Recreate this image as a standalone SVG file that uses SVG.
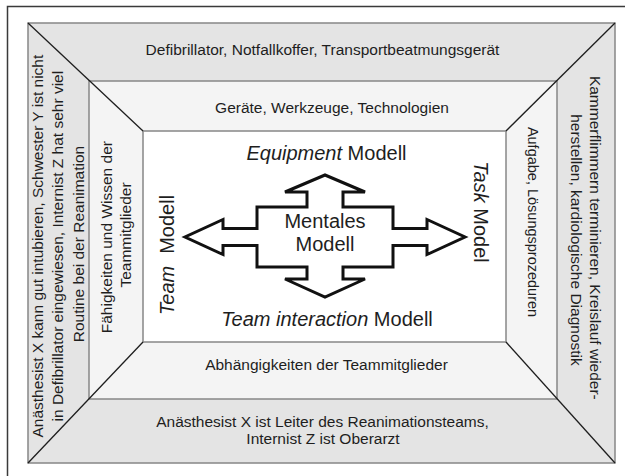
<svg xmlns="http://www.w3.org/2000/svg" width="625" height="476" viewBox="0 0 625 476">
  <style>
    text { font-family: "Liberation Sans", Arial, sans-serif; fill: #1e1e1e; }
    .s { font-size: 15.5px; }
    .xs { font-size: 14.5px; }
    .l { font-size: 20px; }
    .it { font-style: italic; }
    .mid { text-anchor: middle; }
    .band { stroke: #878787; stroke-width: 1.5; }
    .diag { stroke: #1e1e1e; stroke-width: 1.3; fill: none; }
  </style>

  <rect width="625" height="476" fill="#ffffff"/>

  <!-- outer frame (open to the right and bottom) -->
  <path d="M7.5 476 V6.5 H625" fill="none" stroke="#3a3a3a" stroke-width="1.5"/>

  <!-- outer layer: concrete situation -->
  <g id="layer-outer">
    <rect class="band" x="28" y="23" width="587" height="440" fill="#e4e4e4"/>
    <text class="s mid" x="322.5" y="55">Defibrillator, Notfallkoffer, Transportbeatmungsgerät</text>
    <text class="s mid" x="322.5" y="427">Anästhesist X ist Leiter des Reanimationsteams,</text>
    <text class="s mid" x="323" y="444">Internist Z ist Oberarzt</text>
    <text class="s mid" transform="translate(42.5,244) rotate(-90)">
      <tspan x="0" y="0">Anästhesist X kann gut intubieren, Schwester Y ist nicht</tspan>
      <tspan x="0" y="20.5">in Defibrillator eingewiesen, Internist Z hat sehr viel</tspan>
      <tspan x="0" y="41">Routine bei der Reanimation</tspan>
    </text>
    <text class="s mid" transform="translate(590,240) rotate(90)">
      <tspan x="0" y="0">Kammerflimmern terminieren, Kreislauf wieder-</tspan>
      <tspan x="0" y="19">herstellen, kardiologische Diagnostik</tspan>
    </text>
  </g>

  <!-- middle layer: generic content -->
  <g id="layer-middle">
    <rect class="band" x="89" y="81" width="468" height="318" fill="#f4f4f4"/>
    <text class="s mid" x="332" y="112.5">Geräte, Werkzeuge, Technologien</text>
    <text class="s mid" x="326.5" y="370">Abhängigkeiten der Teammitglieder</text>
    <text class="s mid" transform="translate(112,235) rotate(-90)">
      <tspan x="0" y="0">Fähigkeiten und Wissen der</tspan>
      <tspan x="0" y="19">Teammitglieder</tspan>
    </text>
    <text class="xs mid" transform="translate(527.5,222) rotate(90)">Aufgabe, Lösungsprozeduren</text>
  </g>

  <!-- inner layer: the four sub-models -->
  <g id="layer-inner">
    <rect class="band" x="143" y="131" width="363" height="211" fill="#ffffff"/>
    <text class="l mid" x="326.5" y="160"><tspan class="it">Equipment</tspan> Modell</text>
    <text class="l mid" x="327" y="326"><tspan class="it">Team interaction</tspan> Modell</text>
    <text class="l mid" transform="translate(174,255) rotate(-90)"><tspan class="it">Team</tspan><tspan dx="12">Modell</tspan></text>
    <text class="l mid" transform="translate(474,212) rotate(90)"><tspan class="it">Task</tspan> Model</text>
  </g>

  <!-- perspective edges joining the layer corners -->
  <g id="connectors">
    <line class="diag" x1="28" y1="23" x2="143" y2="131"/>
    <line class="diag" x1="615" y1="23" x2="506" y2="131"/>
    <line class="diag" x1="28" y1="463" x2="143" y2="342"/>
    <line class="diag" x1="615" y1="463" x2="506" y2="342"/>
  </g>

  <!-- central four-way arrow -->
  <g id="mental-model">
    <path d="M325 175 L365 192 L343 192 L343 207 L393 207 L393 228.5 L427 228.5 L427 219.5 L465 237 L427 254.5 L427 245.5 L393 245.5 L393 267 L343 267 L343 279 L365 279 L325 297 L285 279 L307 279 L307 267 L257 267 L257 245.5 L223 245.5 L223 254.5 L185 237 L223 219.5 L223 228.5 L257 228.5 L257 207 L307 207 L307 192 L285 192 Z" fill="#ffffff" stroke="#111111" stroke-width="3" stroke-linejoin="miter"/>
    <text class="l mid" x="325" y="228">Mentales</text>
    <text class="l mid" x="325" y="251">Modell</text>
  </g>
</svg>
